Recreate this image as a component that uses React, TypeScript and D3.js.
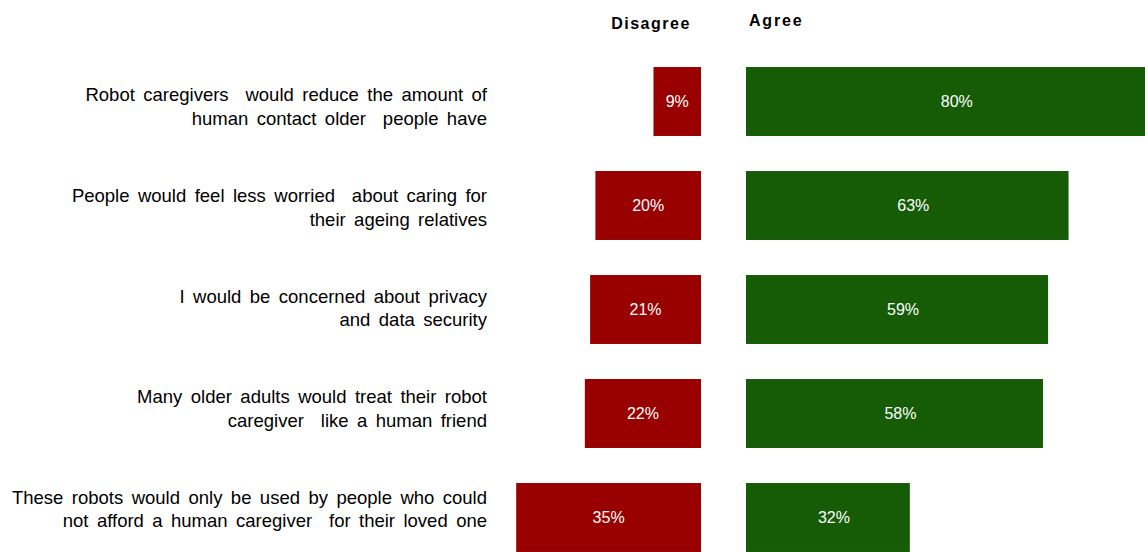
import React from "react";
import * as d3 from "d3";

const statements: string[][] = [
  ["Robot caregivers  would reduce the amount of", "human contact older  people have"],
  ["People would feel less worried  about caring for", "their ageing relatives"],
  ["I would be concerned about privacy", "and data security"],
  ["Many older adults would treat their robot", "caregiver  like a human friend"],
  ["These robots would only be used by people who could", "not afford a human caregiver  for their loved one"],
];
const disagree: number[] = [9, 20, 21, 22, 35];
const agree: number[] = [80, 63, 59, 58, 32];
const headers = { disagree: "Disagree", agree: "Agree" };

const W = 1145;
const H = 552;
const RED = "#990000";
const GREEN = "#165c07";
const FONT = "'Liberation Sans', Arial, sans-serif";

export default function App() {
  const idx = statements.map((_, i) => String(i));
  const y = d3.scaleBand<string>().domain(idx).range([49.5, 569.5]).paddingInner(0.337).paddingOuter(0.1685);
  const yLabel = d3.scalePoint<string>().domain(idx).range([106.5, 509]);
  const xDis = d3.scaleLinear().domain([0, 100]).range([701, 701 - 528]);
  const xAg = d3.scaleLinear().domain([0, 100]).range([746, 746 + 512]);

  return (
    <svg width={W} height={H} style={{ position: "absolute", left: 0, top: 0, display: "block" }} fontFamily={FONT}>
      <rect width={W} height={H} fill="#fff" />
      <text x={651} y={29} textAnchor="middle" fontSize={16} fontWeight="bold" letterSpacing={1.5} fill="#000">
        {headers.disagree}
      </text>
      <text x={749} y={26} textAnchor="start" fontSize={16} fontWeight="bold" letterSpacing={1.8} fill="#000">
        {headers.agree}
      </text>
      {statements.map((lines, i) => {
        const k = String(i);
        const by = y(k)!;
        const bh = y.bandwidth();
        const ly = yLabel(k)!;
        const x0 = xDis(disagree[i]);
        const x1 = xAg(agree[i]);
        return (
          <g key={k}>
            {lines.map((ln, j) => (
              <text
                key={j}
                x={487}
                y={ly + (j === 0 ? -11.5 : 12)}
                dy="0.35em"
                textAnchor="end"
                fontSize={18.5}
                wordSpacing={3.3}
                fill="#000"
                style={{ whiteSpace: "pre" }}
              >
                {ln}
              </text>
            ))}
            <rect x={x0} y={by} width={xDis(0) - x0} height={bh} fill={RED} />
            <rect x={xAg(0)} y={by} width={x1 - xAg(0)} height={bh} fill={GREEN} />
            <text x={(x0 + xDis(0)) / 2} y={by + bh / 2} dy="0.35em" textAnchor="middle" fontSize={16} fill="#fff">
              {disagree[i]}%
            </text>
            <text x={(xAg(0) + x1) / 2 + 6} y={by + bh / 2} dy="0.35em" textAnchor="middle" fontSize={16} fill="#fff">
              {agree[i]}%
            </text>
          </g>
        );
      })}
    </svg>
  );
}
